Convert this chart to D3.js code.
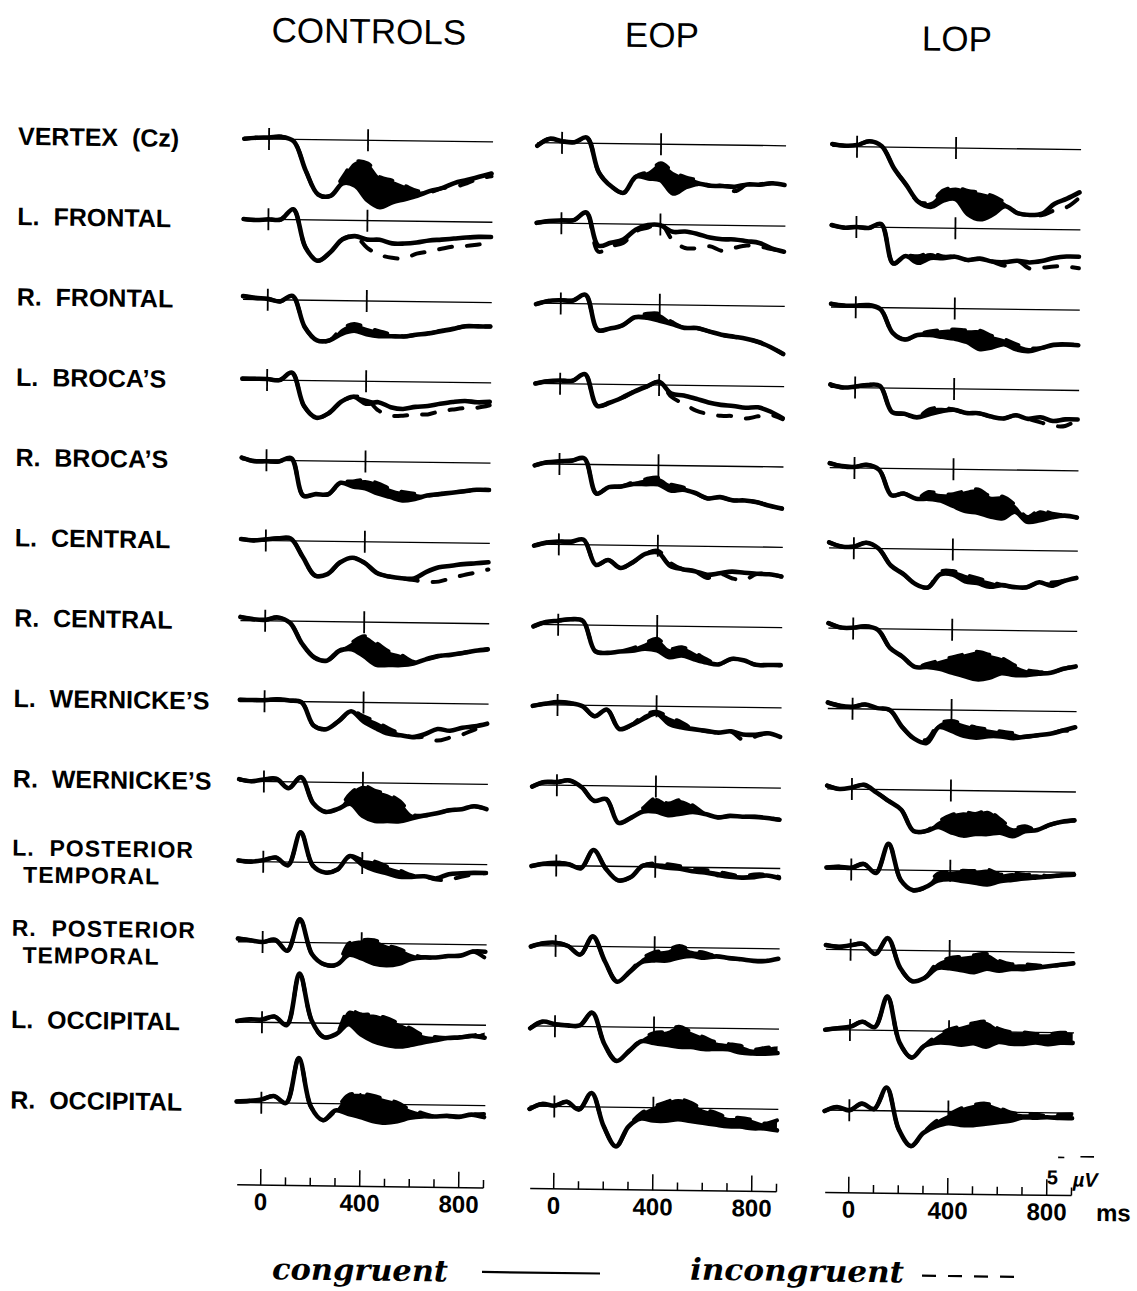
<!DOCTYPE html>
<html>
<head>
<meta charset="utf-8">
<script src="https://cdn.jsdelivr.net/npm/d3@7"></script>
<style>
  body { margin: 0; background: #fff; }
  svg text { font-family: "Liberation Sans", Arial, sans-serif; fill: #000; }
</style>
</head>
<body>
<svg id="chart" width="1137" height="1291"></svg>
<script>
'use strict';

// ---- data (µV, positive plotted downward) ----
const times = [-100, -50, 0, 50, 100, 150, 200, 250, 300, 350, 400, 450, 500, 550, 600, 650, 700, 750, 800, 850, 900];
const groups = ['CONTROLS', 'EOP', 'LOP'];
const sites = [
  ['VERTEX  (Cz)'], ['L.  FRONTAL'], ['R.  FRONTAL'], ['L.  BROCA\u2019S'], ['R.  BROCA\u2019S'],
  ['L.  CENTRAL'], ['R.  CENTRAL'], ['L.  WERNICKE\u2019S'], ['R.  WERNICKE\u2019S'],
  ['L.  POSTERIOR', 'TEMPORAL'], ['R.  POSTERIOR', 'TEMPORAL'], ['L.  OCCIPITAL'], ['R.  OCCIPITAL']
];
const markTimes = [0, 400];
const axisTicks = [0, 100, 200, 300, 400, 500, 600, 700, 800, 900];
const axisLabels = [0, 400, 800];
const scaleBarText = ['5', '\u00b5V'];

const ctlCon = [
  [0, -0.3, -0.4, -0.6, 0.5, 7.9, 13.7, 14.0, 10.8, 11.4, 15, 16.7, 15.4, 14.6, 13.7, 12.5, 11.7, 10.4, 9.6, 8.75, 7.9],
  [0, 0.2, 0, 0, -2.6, 6.8, 10.2, 8.1, 4.75, 3.9, 4.75, 4.75, 5.6, 5.6, 5.3, 4.75, 4.5, 4.2, 3.9, 3.7, 3.7],
  [-0.8, -0.4, -0.2, 0.4, -1, 6.7, 10, 10, 8.3, 7.5, 8.3, 8.75, 8.75, 8.75, 8.3, 7.9, 7.3, 6.7, 6, 6, 6],
  [-0.25, -0.25, -0.25, 0, -1.9, 6.4, 9.3, 8.1, 5.2, 3.9, 5.6, 5.2, 6.4, 6.8, 6.25, 6, 5.4, 4.9, 4.6, 4.9, 4.75],
  [-0.6, 0.25, 0.25, 0.25, -0.6, 8.75, 8.3, 8.3, 5.4, 6.25, 6.7, 7.9, 8.75, 9.6, 9.2, 8.3, 7.9, 7.5, 7.1, 6.7, 6.7],
  [-0.3, 0, -0.3, -0.6, -0.6, 4, 8.6, 8.2, 5.25, 4, 5.25, 7.75, 8.6, 9, 9, 7.3, 6.1, 5.7, 5.25, 5, 4.7],
  [-0.9, -0.4, -0.25, -0.9, 0.4, 5.6, 9, 9.75, 7.25, 6.8, 8.5, 10.6, 10.6, 10.6, 10.2, 9.1, 8.25, 7.9, 7.4, 6.8, 6.4],
  [-0.25, -0.25, -0.25, -0.5, -0.25, 0.2, 6, 6.8, 4.75, 2.25, 4.75, 6.4, 7.7, 8.1, 8.5, 7.7, 6.4, 6.8, 6, 5.6, 4.9],
  [-0.5, 0, -0.5, -0.7, 1.6, -1.2, 5.3, 7.4, 6.6, 5.3, 8.25, 9.5, 9.5, 9.5, 8.7, 8, 7.4, 6.6, 6.3, 5.5, 6.2],
  [-0.25, 0, -0.4, -1.1, 0.8, -7.5, 0.8, 2.5, 1.7, -1.7, 0.4, 1.7, 2.5, 3.3, 3.3, 3.1, 3.6, 2.5, 2.25, 2.1, 2.1],
  [-0.8, -0.4, 0, -0.6, 2.1, -5.8, 2.9, 5.4, 5.4, 2.9, 3.75, 5, 5.4, 5, 3.75, 3.3, 3.3, 2.9, 2.75, 1.7, 1.7],
  [-0.25, -0.7, -0.7, -1.5, 0.6, -12.3, -0.7, 3.5, 2.7, 0.2, 2.7, 4.3, 5.2, 5.6, 5.2, 4.5, 3.9, 3.3, 3.1, 2.7, 3.1],
  [-0.2, -0.4, -0.8, -1.7, 0, -11.25, 0.8, 4.2, 1.7, 2.5, 3.3, 4.2, 4.6, 4.2, 3.3, 2.9, 2.9, 2.7, 2.9, 2.3, 2.9]
];
const ctlInc = [
  [0, -0.3, -0.4, -0.6, 0.5, 7.9, 13.7, 14.0, 9.2, 5.4, 5.8, 9.2, 10, 11.25, 12.5, 12.75, 11.7, 11.4, 10.4, 9.2, 8.6],
  [0, 0.2, 0, 0, -2.6, 6.8, 10.2, 8.1, 4.75, 3.9, 6.8, 8.5, 9.2, 9.3, 8.1, 7.5, 6.8, 6.2, 6, 5.6, 5.2],
  [-0.8, -0.4, -0.2, 0.4, -1, 6.7, 10, 10, 7.0, 5.8, 6.7, 7.5, 8.3, 8.75, 8.3, 7.9, 7.3, 6.7, 6, 6, 6],
  [-0.25, -0.25, -0.25, 0, -1.9, 6.4, 9.3, 8.1, 5.2, 3.9, 4.3, 7.25, 8.5, 8.5, 8.1, 8.1, 7.25, 6.8, 6.4, 6.25, 5.6],
  [-0.6, 0.25, 0.25, 0.25, -0.6, 8.75, 8.3, 8.3, 5.4, 5, 4.6, 5.4, 6.7, 7.5, 7.9, 8.3, 7.9, 7.5, 7.1, 6.7, 6.7],
  [-0.3, 0, -0.3, -0.6, -0.6, 4, 8.6, 8.2, 5.25, 4, 5.25, 7.75, 8.6, 9, 9.4, 9.8, 9.7, 8.8, 8, 7.3, 6.5],
  [-0.9, -0.4, -0.25, -0.9, 0.4, 5.6, 9, 9.75, 7.25, 5.2, 3.5, 5.2, 7.25, 8.1, 9.75, 9.1, 8.25, 7.9, 7.4, 6.8, 6.4],
  [-0.25, -0.25, -0.25, -0.5, -0.25, 0.2, 6, 6.8, 4.75, 2.25, 3.5, 4.75, 6.4, 7.7, 8.5, 8.5, 9.3, 8.5, 7.7, 6.4, 5.6],
  [-0.5, 0, -0.5, -0.7, 1.6, -1.2, 5.3, 7.4, 6.6, 2.8, 0.75, 2, 2.8, 4.5, 7.8, 8, 7.4, 6.6, 6.3, 5.5, 6.2],
  [-0.25, 0, -0.4, -1.1, 0.8, -7.5, 0.8, 2.5, 1.7, -1.7, -0.8, -0.4, 0.8, 1.7, 2.9, 3.1, 3.9, 3.9, 3.1, 2.5, 2.1],
  [-0.8, -0.4, 0, -0.6, 2.1, -5.8, 2.9, 5.4, 5.4, 0, -0.8, -0.8, 0.4, 1.25, 2.5, 3.3, 3.3, 2.9, 2.75, 1.7, 3.3],
  [-0.25, -0.7, -0.7, -1.5, 0.6, -12.3, -0.7, 3.5, 2.7, -3.2, -2.3, -2.3, -1.5, -0.25, 1, 2.7, 3.1, 3.3, 3.1, 2.7, 1.8],
  [-0.2, -0.4, -0.8, -1.7, 0, -11.25, 0.8, 4.2, 1.7, -2.1, -2.5, -2.1, -1.25, -0.4, 1.25, 2.1, 2.9, 2.7, 2.9, 2.3, 2.1]
];

const eopCon = [
  [0.8, -1, -0.4, -0.2, -1.4, 7.3, 10.7, 12.3, 8.2, 8.6, 9, 12.3, 10.7, 9.8, 10.25, 10.25, 10.4, 9.8, 9.8, 9.4, 9.8],
  [0, -0.5, -0.7, -0.8, -2.75, 5.5, 4.75, 3.9, 1.4, 0.2, 0.2, 1.8, 1.7, 2.25, 3.1, 3.5, 3.5, 3.9, 4.3, 5.6, 6.4],
  [0.25, -0.6, -0.8, -0.8, -2.25, 6.5, 6.1, 5.25, 3.2, 3.3, 4, 4.8, 5.7, 5.7, 6.5, 7.3, 7.75, 8.2, 9, 10.25, 11.9],
  [0, -0.6, -0.8, -0.8, -2.5, 5.4, 4.6, 3.3, 1.7, 0.4, -0.8, 2.1, 2.5, 3.3, 4.2, 4.75, 5, 5.4, 5.25, 6.25, 7.9],
  [0.4, -0.4, -0.7, -0.9, -1.5, 7.25, 5.6, 5.4, 4.75, 4.75, 4.75, 6.25, 6, 6.8, 8.1, 7.75, 8.5, 8.5, 8.9, 9.75, 10.4],
  [0.4, -0.4, -0.7, -0.7, -1.25, 5, 3.75, 5.7, 4.2, 2.1, 1.7, 5, 5.8, 6.25, 7.1, 6.7, 6.25, 6.5, 6.7, 6.8, 7.3],
  [0.5, -0.6, -1, -1.4, -1, 6.5, 6.9, 6.5, 6.3, 5.7, 6.1, 7.75, 7.3, 8.2, 9, 9.4, 8, 8.3, 9.4, 9.4, 9.4],
  [0.3, -0.25, -0.7, -0.5, 0.2, 2.7, 1, 5.8, 4.75, 3.1, 1.8, 4.3, 5.2, 5.6, 6, 6.4, 6, 6.8, 6.8, 6.4, 7.25],
  [0.4, -0.8, -0.8, -1.25, 0.4, 3.75, 3.3, 9.2, 7.9, 6.25, 6.25, 7.1, 6.7, 6.25, 6.7, 7.5, 7.1, 7.25, 7.25, 7.5, 7.9],
  [0.2, -0.4, -0.7, -0.4, 0.6, -4, 0.6, 3.5, 2.7, -0.25, -0.25, 0.2, 0.4, 1, 1.25, 1.8, 2.25, 2.4, 2.25, 1.8, 2.4],
  [0.25, -0.6, -0.8, 0, 2.1, -2.5, 3.75, 8.75, 6.25, 3.75, 3.3, 3.3, 2.5, 2.1, 2.5, 2.1, 2.5, 2.75, 3.1, 3.1, 2.5],
  [0.6, -1.1, -0.5, -0.25, -0.25, -3.5, 4.3, 8.5, 6, 3.5, 3.9, 4.3, 4.75, 4.75, 5.2, 5.2, 5.2, 6, 6.2, 6.2, 6],
  [0.7, -0.6, -0.2, -1.2, 0.7, -3.5, 4.8, 9.8, 4.8, 2.75, 3.2, 3.2, 2.75, 3.2, 3.6, 4, 4.4, 4.4, 4.8, 4.8, 5.25]
];
const eopInc = [
  [0.8, -1, -0.4, -0.2, -1.4, 7.3, 10.7, 12.3, 8.2, 6.9, 4.8, 6.9, 8.2, 9, 10.25, 10.25, 11.5, 9.8, 9.8, 9.4, 9.8],
  [0, -0.5, -0.7, -0.8, -2.75, 7.0, 5.6, 4.75, 1.8, 0.8, -0.25, 3.9, 5.8, 5.8, 5.3, 6.4, 5.6, 5, 5.2, 5.8, 6.4],
  [0.25, -0.6, -0.8, -0.8, -2.25, 6.5, 6.1, 5.25, 3.2, 2.3, 2.3, 4.3, 5.7, 5.7, 6.5, 7.3, 7.75, 8.2, 9, 10.25, 11.9],
  [0, -0.6, -0.8, -0.8, -2.5, 5.4, 4.6, 3.3, 1.7, 0.4, -0.8, 2.9, 4.6, 6.25, 7.1, 7.5, 7.5, 8.1, 7.5, 7.1, 8.1],
  [0.4, -0.4, -0.7, -0.9, -1.5, 7.25, 5.6, 5.4, 4.3, 3.5, 3.1, 4.75, 5.4, 6.8, 8.1, 7.75, 8.5, 8.5, 8.9, 9.75, 10.4],
  [0.4, -0.4, -0.7, -0.7, -1.25, 5, 3.75, 5.7, 4.2, 2.1, 1.25, 4.2, 5.8, 6.25, 7.9, 6.8, 7.9, 8.3, 6.8, 6.8, 7.3],
  [0.5, -0.6, -1, -1.4, -1, 6.5, 6.9, 6.5, 5.7, 4.4, 3.2, 5.7, 5.25, 6.5, 8.2, 9.4, 8, 8.3, 9.4, 9.4, 9.4],
  [0.3, -0.25, -0.7, -0.5, 0.2, 2.7, 1, 5.8, 4.75, 2.25, 1.4, 2.7, 3.9, 5.6, 6, 6.4, 6, 8.1, 7.25, 6.4, 7.25],
  [0.4, -0.8, -0.8, -1.25, 0.4, 3.75, 3.3, 9.2, 7.9, 5.4, 2.9, 4.2, 3.3, 4.6, 6.7, 7.5, 7.1, 7.25, 7.25, 7.5, 7.9],
  [0.2, -0.4, -0.7, -0.4, 0.6, -4, 0.6, 3.5, 2.7, -0.25, -0.9, -0.7, -0.25, 0.6, 0.6, 1, 1.6, 2.1, 1.6, 1.6, 2.1],
  [0.25, -0.6, -0.8, 0, 2.1, -2.5, 3.75, 8.75, 6.25, 2.9, 1.25, 0.8, -0.4, 0.8, 1.25, 2.1, 2.5, 2.75, 3.1, 3.1, 2.5],
  [0.6, -1.1, -0.5, -0.25, -0.25, -3.5, 4.3, 8.5, 6, 3.1, 1.4, 1, -0.25, 1, 2.25, 3.5, 3.9, 4.3, 5.2, 4.75, 4.3],
  [0.7, -0.6, -0.2, -1.2, 0.7, -3.5, 4.8, 9.8, 4.8, 1.5, -0.2, -1.4, -2.25, -1.4, 0.25, 1, 2.25, 2.25, 2.75, 3.6, 2.75]
];

const lopCon = [
  [-0.6, -0.2, -0.4, -1.4, -0.2, 5.25, 9.4, 13.6, 14.8, 13.2, 12.75, 16.5, 17.75, 16.5, 14.4, 16.1, 16.5, 16.1, 13.6, 12.3, 10.7],
  [-0.4, 0.2, 0, 0.2, -0.8, 9.0, 7.1, 8.75, 7.5, 7.5, 7.1, 7.9, 7.5, 8.2, 8.3, 7.9, 8.3, 7.9, 7.1, 6.7, 6.7],
  [-0.8, -0.4, -0.4, -0.6, 0.4, 6.25, 7.9, 6.7, 6.7, 7.1, 7.5, 8.3, 10, 9.6, 8.75, 10, 10.4, 9.6, 8.75, 8.6, 8.75],
  [-0.7, 0, -0.25, -0.7, -0.5, 6, 6.4, 7.25, 6.4, 5.6, 5.2, 6, 6, 6.8, 7.25, 6.4, 7.25, 6.8, 7.7, 7.25, 7.25],
  [-1.1, -0.4, -0.25, -0.8, 0.4, 6.7, 6.25, 7.5, 7.5, 7.9, 9.2, 10.4, 10.8, 11.7, 12.1, 10.4, 12.9, 12.5, 11.7, 11.25, 11.7],
  [-1.4, -0.4, -0.4, -1.4, 0, 4.2, 6.25, 8.75, 9.6, 6.25, 6.25, 7.9, 8.3, 9.2, 8.75, 9.2, 9.2, 7.9, 8.75, 7.5, 6.7],
  [-1.25, -0.2, -0.2, -0.6, 0.25, 4.8, 6.9, 9.4, 9.4, 9.8, 10.7, 11.5, 12.3, 11.9, 10.7, 11.1, 11.1, 10.7, 10.4, 9.4, 8.75],
  [-1.5, -0.7, -0.5, -1.1, -0.25, 0.2, 4.3, 7.25, 8.3, 4.3, 5.2, 6.4, 6.8, 6.4, 6.4, 6.8, 6.4, 6, 5.6, 4.75, 3.9],
  [-0.8, 0, -0.4, -1.1, 0.8, 2.9, 5, 10.25, 10.25, 9.2, 10.4, 11.25, 10.8, 10.8, 10.4, 11.25, 10, 9.6, 8.3, 7.5, 7.1],
  [-0.4, -0.6, -0.4, -1.4, 0.8, -6.5, 2.5, 5, 4.2, 2.5, 2.1, 2.5, 2.9, 3.3, 2.5, 2.1, 1.7, 1.4, 1.1, 0.8, 0.6],
  [-1.1, -0.7, -1.1, -1.5, 1, -3, 4.3, 7.7, 6.8, 4.3, 4.3, 4.75, 5.2, 4.3, 4.75, 4.3, 4.3, 3.9, 3.5, 3.1, 2.7],
  [0, -0.4, -0.8, -2.1, -0.8, -8.5, 2.9, 6.7, 3.75, 2.9, 2.9, 3.3, 2.9, 3.75, 2.5, 2.9, 2.9, 2.5, 2.9, 2.5, 2.5],
  [0.25, -0.8, 0, -1.7, -0.4, -5.8, 4.6, 8.75, 5.4, 3.75, 2.9, 3.3, 3.3, 2.9, 2.5, 2.1, 1.25, 1.25, 1.1, 1.25, 1.25]
];
const lopInc = [
  [-0.6, -0.2, -0.4, -1.4, -0.2, 5.25, 9.4, 13.6, 13.6, 10.7, 9.9, 10.7, 11.1, 11.9, 13.6, 16.1, 16.5, 16.5, 15.25, 14.4, 12],
  [-0.4, 0.2, 0, 0.2, -0.8, 9.0, 7.1, 7.1, 6.25, 7.1, 7.1, 7.9, 7.5, 8.2, 9.2, 7.9, 9.8, 9.6, 9.2, 9.2, 9.6],
  [-0.8, -0.4, -0.4, -0.6, 0.4, 6.25, 7.9, 6.7, 5.8, 5.4, 5.25, 5.4, 5.4, 6.7, 7.5, 8.75, 9.6, 9.6, 8.75, 8.6, 8.75],
  [-0.7, 0, -0.25, -0.7, -0.5, 6, 6.4, 7.25, 5.2, 4.75, 5.2, 6, 6, 6.8, 7.25, 6.4, 7.25, 8.1, 8.9, 8.9, 7.25],
  [-1.1, -0.4, -0.25, -0.8, 0.4, 6.7, 6.25, 7.5, 5.8, 6.25, 6.25, 5.4, 5, 6.7, 6.7, 8.75, 11.7, 10, 10.8, 11.25, 11.7],
  [-1.4, -0.4, -0.4, -1.4, 0, 4.2, 6.25, 8.75, 9.6, 5.6, 5.4, 6.25, 7.1, 7.9, 8.75, 9.2, 9.2, 7.9, 7.9, 7.5, 6.7],
  [-1.25, -0.2, -0.2, -0.6, 0.25, 4.8, 6.9, 9.4, 8.6, 7.75, 6.9, 6.1, 5.4, 6.1, 6.9, 8.6, 9.8, 10.25, 10.4, 9.4, 8.75],
  [-1.5, -0.7, -0.5, -1.1, -0.25, 0.2, 4.3, 7.25, 7.5, 3.5, 2.75, 3.5, 4.3, 4.75, 5.2, 5.6, 6.4, 6, 5.6, 4.75, 5.2],
  [-0.8, 0, -0.4, -1.1, 0.8, 2.9, 5, 10.25, 10.25, 7.9, 6.25, 5.4, 5.8, 5, 7.1, 9.2, 8.75, 9.6, 8.3, 7.5, 7.1],
  [-0.4, -0.6, -0.4, -1.4, 0.8, -6.5, 2.5, 5, 4.2, 0.8, 0.25, 0, 0, -0.4, 0.8, 0.4, 0.8, 0.6, 1.1, 0.8, 0.6],
  [-1.1, -0.7, -1.1, -1.5, 1, -3, 4.3, 7.7, 6.8, 3.1, 1.8, 1.4, 1, 0.6, 2.25, 3.1, 3.1, 3.3, 3.5, 3.1, 2.7],
  [0, -0.4, -0.8, -2.1, -0.8, -8.5, 2.9, 6.7, 3.75, 1.25, -0.4, -1.25, -2.1, -2.5, -0.8, 0, 0, 0.4, 0.4, 0, 0],
  [0.25, -0.8, 0, -1.7, -0.4, -5.8, 4.6, 8.75, 5.4, 2.5, 0.8, -0.8, -1.7, -2.1, -1.25, 0, 0.4, 0.4, 0.8, 0.4, 0.25]
];

const conData = [ctlCon, eopCon, lopCon];
const incData = [ctlInc, eopInc, lopInc];

// ---- layout ----
const zeroX = [265, 558, 853];
const msPx = 0.2475;
const uvPx = 4;
const rowTop = 143, rowGap = 80.3;
const axisY = 1189;

const svg = d3.select('#chart');
// the printed figure sits slightly askew on the page
const g = svg.append('g')
  .attr('transform', 'matrix(1,0.013,-0.008,1,' + (0.008 * 650) + ',' + (-0.013 * 568) + ')');

const lineGen = (x, y, key) => d3.line()
  .x(d => x(d.t)).y(d => y(d[key]))
  .curve(d3.curveCatmullRom.alpha(0.5));

groups.forEach((name, ci) => {
  const x = d3.scaleLinear().domain([-100, 905])
    .range([zeroX[ci] - 100 * msPx, zeroX[ci] + 905 * msPx]);

  g.append('text')
    .attr('x', x(400)).attr('y', 46)
    .attr('text-anchor', 'middle')
    .style('font-size', '35px')
    .text(name);

  sites.forEach((site, ri) => {
    const base = rowTop + rowGap * ri;
    const y = d3.scaleLinear().domain([0, 10]).range([base, base + 10 * uvPx]);
    const con = conData[ci][ri], inc = incData[ci][ri];
    const pts = times.map((t, k) => ({ t: t, c: con[k], i: inc[k], m: Math.min(con[k], inc[k]) }));
    const panel = g.append('g');

    panel.append('line')
      .attr('x1', x(-100)).attr('x2', x(905))
      .attr('y1', y(0)).attr('y2', y(0))
      .attr('stroke', '#000').attr('stroke-width', 1.3);

    panel.selectAll('.mark').data(markTimes).enter().append('line')
      .attr('x1', d => x(d)).attr('x2', d => x(d))
      .attr('y1', y(0) - 11).attr('y2', y(0) + 11)
      .attr('stroke', '#000').attr('stroke-width', 1.8);

    panel.append('path')
      .datum(pts)
      .attr('d', d3.area()
        .x(d => x(d.t)).y0(d => y(d.c)).y1(d => y(d.m))
        .curve(d3.curveCatmullRom.alpha(0.5)))
      .attr('fill', '#000');

    panel.append('path')
      .datum(pts)
      .attr('d', lineGen(x, y, 'i'))
      .attr('fill', 'none').attr('stroke', '#000')
      .attr('stroke-width', 4)
      .attr('stroke-linecap', 'round')
      .attr('stroke-dasharray', '13,15');

    panel.append('path')
      .datum(pts)
      .attr('d', lineGen(x, y, 'c'))
      .attr('fill', 'none').attr('stroke', '#000')
      .attr('stroke-width', 4.6)
      .attr('stroke-linejoin', 'round')
      .attr('stroke-linecap', 'round');

    if (ci === 0) {
      const two = site.length > 1;
      const off = two ? [-3, 24] : [9];
      site.forEach((s, k) => {
        g.append('text')
          .attr('x', k === 0 ? 14 : 25).attr('y', base + off[k])
          .style('font-size', two ? '23px' : '25px').style('font-weight', 'bold')
          .style('letter-spacing', two ? '1px' : '0px')
          .style('white-space', 'pre')
          .text(s);
      });
    }
  });

  // time axis
  const ax = g.append('g').attr('transform', 'translate(0,' + axisY + ')');
  ax.append('line')
    .attr('x1', x(-95)).attr('x2', x(900))
    .attr('stroke', '#000').attr('stroke-width', 1.5);
  ax.selectAll('.tk').data(axisTicks).enter().append('line')
    .attr('x1', d => x(d)).attr('x2', d => x(d))
    .attr('y1', 0)
    .attr('y2', d => axisLabels.includes(d) ? -16 : -8)
    .attr('stroke', '#000').attr('stroke-width', 1.5);
  ax.selectAll('.lb').data(axisLabels).enter().append('text')
    .attr('x', d => x(d)).attr('y', 25)
    .attr('text-anchor', 'middle')
    .style('font-size', '24px').style('font-weight', 'bold')
    .text(d => d);

  if (ci === 2) {
    ax.append('text').attr('x', x(1000)).attr('y', 25)
      .style('font-size', '24px').style('font-weight', 'bold').text('ms');
    ax.append('text').attr('x', x(800)).attr('y', -11)
      .style('font-size', '20px').style('font-weight', 'bold').text(scaleBarText[0]);
    ax.append('text').attr('x', x(905)).attr('y', -9)
      .style('font-size', '20px').style('font-weight', 'bold').style('font-style', 'italic')
      .text(scaleBarText[1]);
    ax.append('line').attr('x1', x(845)).attr('x2', x(870)).attr('y1', -38).attr('y2', -38)
      .attr('stroke', '#000').attr('stroke-width', 1.6);
    ax.append('line').attr('x1', x(935)).attr('x2', x(990)).attr('y1', -39).attr('y2', -39)
      .attr('stroke', '#000').attr('stroke-width', 1.6);
  }
});

// legend
const leg = g.append('g');
leg.append('text').attr('x', 277).attr('y', 1283)
  .attr('textLength', 176).attr('lengthAdjust', 'spacingAndGlyphs')
  .style('font-family', '"DejaVu Serif", serif')
  .style('font-size', '30px').style('font-weight', 'bold').style('font-style', 'italic')
  .text('congruent');
leg.append('line').attr('x1', 487).attr('x2', 605).attr('y1', 1273).attr('y2', 1273)
  .attr('stroke', '#000').attr('stroke-width', 2.2);
leg.append('text').attr('x', 695).attr('y', 1278)
  .attr('textLength', 214).attr('lengthAdjust', 'spacingAndGlyphs')
  .style('font-family', '"DejaVu Serif", serif')
  .style('font-size', '30px').style('font-weight', 'bold').style('font-style', 'italic')
  .text('incongruent');
leg.append('line').attr('x1', 927).attr('x2', 1030).attr('y1', 1271).attr('y2', 1271)
  .attr('stroke', '#000').attr('stroke-width', 2.2).attr('stroke-dasharray', '14,12');
</script>
</body>
</html>
